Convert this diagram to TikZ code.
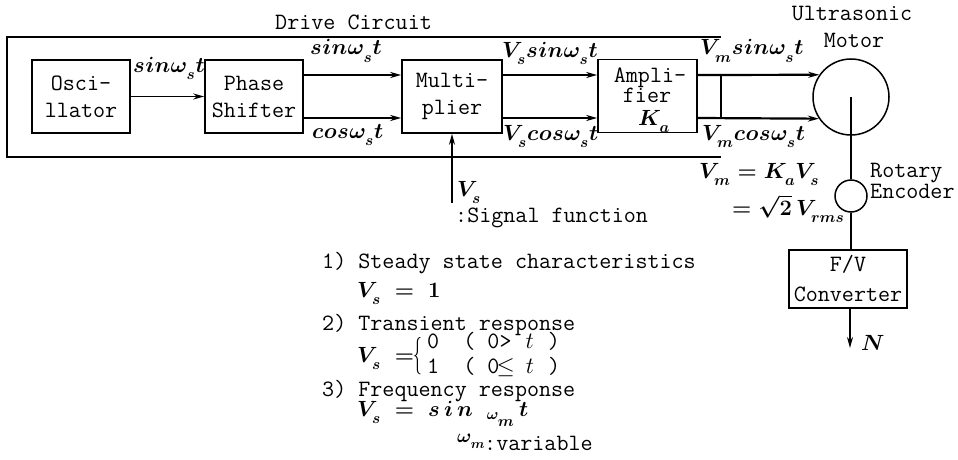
\RequirePackage{fix-cm}
\documentclass[tikz,border=0pt]{standalone}
\usepackage{fontspec}
\usepackage{graphicx}
\usetikzlibrary{arrows.meta,calc}
\newcommand\lo[1]{_{\raisebox{-0.2em}[\height][0pt]{$\scriptstyle #1$}}}
\newcommand\gp{\mkern0.3mu}
\newcommand\swt{s\gp i\gp n\gp\omega\lo{s}\gp t}
\newcommand\cwt{c\gp o\gp s\gp\omega\lo{s}\gp t}
\newcommand\tbox[1]{\makebox[0.525em]{$#1$}}
\begin{document}
\begin{tikzpicture}[x=1pt,y=-1pt,
  mono/.style={font=\fontsize{23.4}{27}\ttfamily},
  mathlbl/.style={font=\fontsize{22}{26}\selectfont\boldmath, inner sep=0pt, anchor=base west},
  txt/.style={mono, inner sep=0pt, anchor=base west},
  ctxt/.style={mono, inner sep=0pt, anchor=base},
  block/.style={draw, line width=1.6pt, mono, align=center, inner sep=0pt},
  sig/.style={line width=2.2pt, -{Stealth[length=11pt,width=6pt]}},
  thinsig/.style={line width=1.6pt, -{Stealth[length=11pt,width=6pt]}},
  wire/.style={line width=1.5pt},
]
\useasboundingbox (0,0) rectangle (958,460);

% frame of the drive circuit
\coordinate (f1) at (721,37);
\coordinate (f2) at (7,37);
\coordinate (f3) at (7,157);
\coordinate (f4) at (721,157);
\coordinate (fr1) at (721,75);
\coordinate (fr2) at (721,118);
\draw[wire] (f1) -- (f2) -- (f3) -- (f4);
\draw[wire] (fr1) -- (fr2);
\node[txt] (drive) at (275,30) {Drive Circuit};

% blocks
\node[block, minimum width=98, minimum height=73] (osc) at (81,96.5) {Osci-\\llator};
\node[block, minimum width=98, minimum height=73] (phase) at (254,96.5) {Phase\\Shifter};
\node[block, minimum width=100, minimum height=73] (mult) at (452,96.5) {Multi-\\plier};
\node[block, minimum width=99, minimum height=73] (amp) at (647.5,96) {};
\node[ctxt] (amp1) at (650,82) {Ampli-};
\node[ctxt] (amp2) at (647,102) {fier};
\node[mathlbl] (ka) at (638,125) {$K\lo{a}$};

\node[draw, circle, line width=1.5pt, minimum size=76, inner sep=0pt] (motor) at (851,97) {};
\node[ctxt] (ultra) at (852,21) {Ultrasonic};
\node[ctxt] (motlbl) at (854,48) {Motor};

\node[draw, circle, line width=1.5pt, minimum size=32, inner sep=0pt] (enc) at (851,196) {};
\node[txt] (rot1) at (870,177) {Rotary};
\node[txt] (rot2) at (870,198) {Encoder};

\node[block, minimum width=118, minimum height=58, font=\fontsize{23.4}{30}\ttfamily] (fv) at (848,279) {F/V\\Converter};

% signal lines
\coordinate (ytop) at (0,75);
\coordinate (ybot) at (0,118);
\draw[thinsig] (osc) -- (phase);
\draw[sig] (phase.east |- ytop) -- (mult.west |- ytop);
\draw[sig] (phase.east |- ybot) -- (mult.west |- ybot);
\draw[sig] (mult.east |- ytop) -- (amp.west |- ytop);
\draw[sig] (mult.east |- ybot) -- (amp.west |- ybot);
\draw[sig] (amp.east |- ytop) -- (motor.145);
\draw[sig] (amp.east |- ybot) -- (motor.214);

\coordinate (vsfoot) at (452,203);
\draw[thinsig] (vsfoot) -- (mult.south);

\draw[wire] (motor.center) -- (enc.north);
\draw[wire] (enc.south) -- (enc.south |- fv.north);
\coordinate (nout) at (850,348);
\draw[thinsig] (fv.south -| nout) -- (nout);
\node[mathlbl] (nlbl) at (861,350) {$N$};

% labels
\node[mathlbl] (l1) at (133,72) {$\swt$};
\node[mathlbl] (l2) at (310,55) {$\swt$};
\node[mathlbl] (l3) at (312,138) {$\cwt$};
\node[mathlbl] (l4) at (502,57) {$V\lo{s}\gp\swt$};
\node[mathlbl] (l5) at (503,140) {$V\lo{s}\gp\cwt$};
\node[mathlbl] (l6) at (700,55) {$V\lo{m}\gp\swt$};
\node[mathlbl] (l7) at (702,140) {$V\lo{m}\gp\cwt$};
\node[mathlbl] (l8) at (699,178) {$V\lo{m} = K\lo{a}V\lo{s}$};
\node[mathlbl] (l9) at (732,215) {$=\sqrt{2}\,V\lo{rms}$};
\node[mathlbl] (vs) at (457,196) {$V\lo{s}$};
\node[txt] (sigf) at (455,222) {:Signal function};

% conditions
\node[txt] (i1) at (322,268) {1) Steady state characteristics};
\node[mathlbl] (e1) at (357,297) {$V\lo{s}\;=\;1$};
\node[txt] (i2) at (322,330) {2) Transient response};
\node[mathlbl] (e2) at (357,362) {$V\lo{s}\;=$};
\node[font=\fontsize{22}{26}\selectfont, inner sep=0pt] (brace) at (418,356) {\scalebox{0.8}[1.7]{$\{$}};
\node[txt] (r1) at (427,348) {0~~(~0>~\tbox{t}~)};
\node[txt] (r2) at (427,373) {1~~(~0\tbox{\leq}~\tbox{t}~)};
\node[txt] (i3) at (322,396) {3) Frequency response};
\node[mathlbl] (e3) at (357,416) {$V\lo{s}\;=\;s\,i\,n\;\;{}_{\omega\lo{m}}\,t$};
\node[mathlbl, font=\fontsize{19}{22}\selectfont\boldmath] (wm) at (457,442) {$\omega\lo{m}$};
\node[txt] (var) at (484,450) {:variable};
\end{tikzpicture}
\end{document}
